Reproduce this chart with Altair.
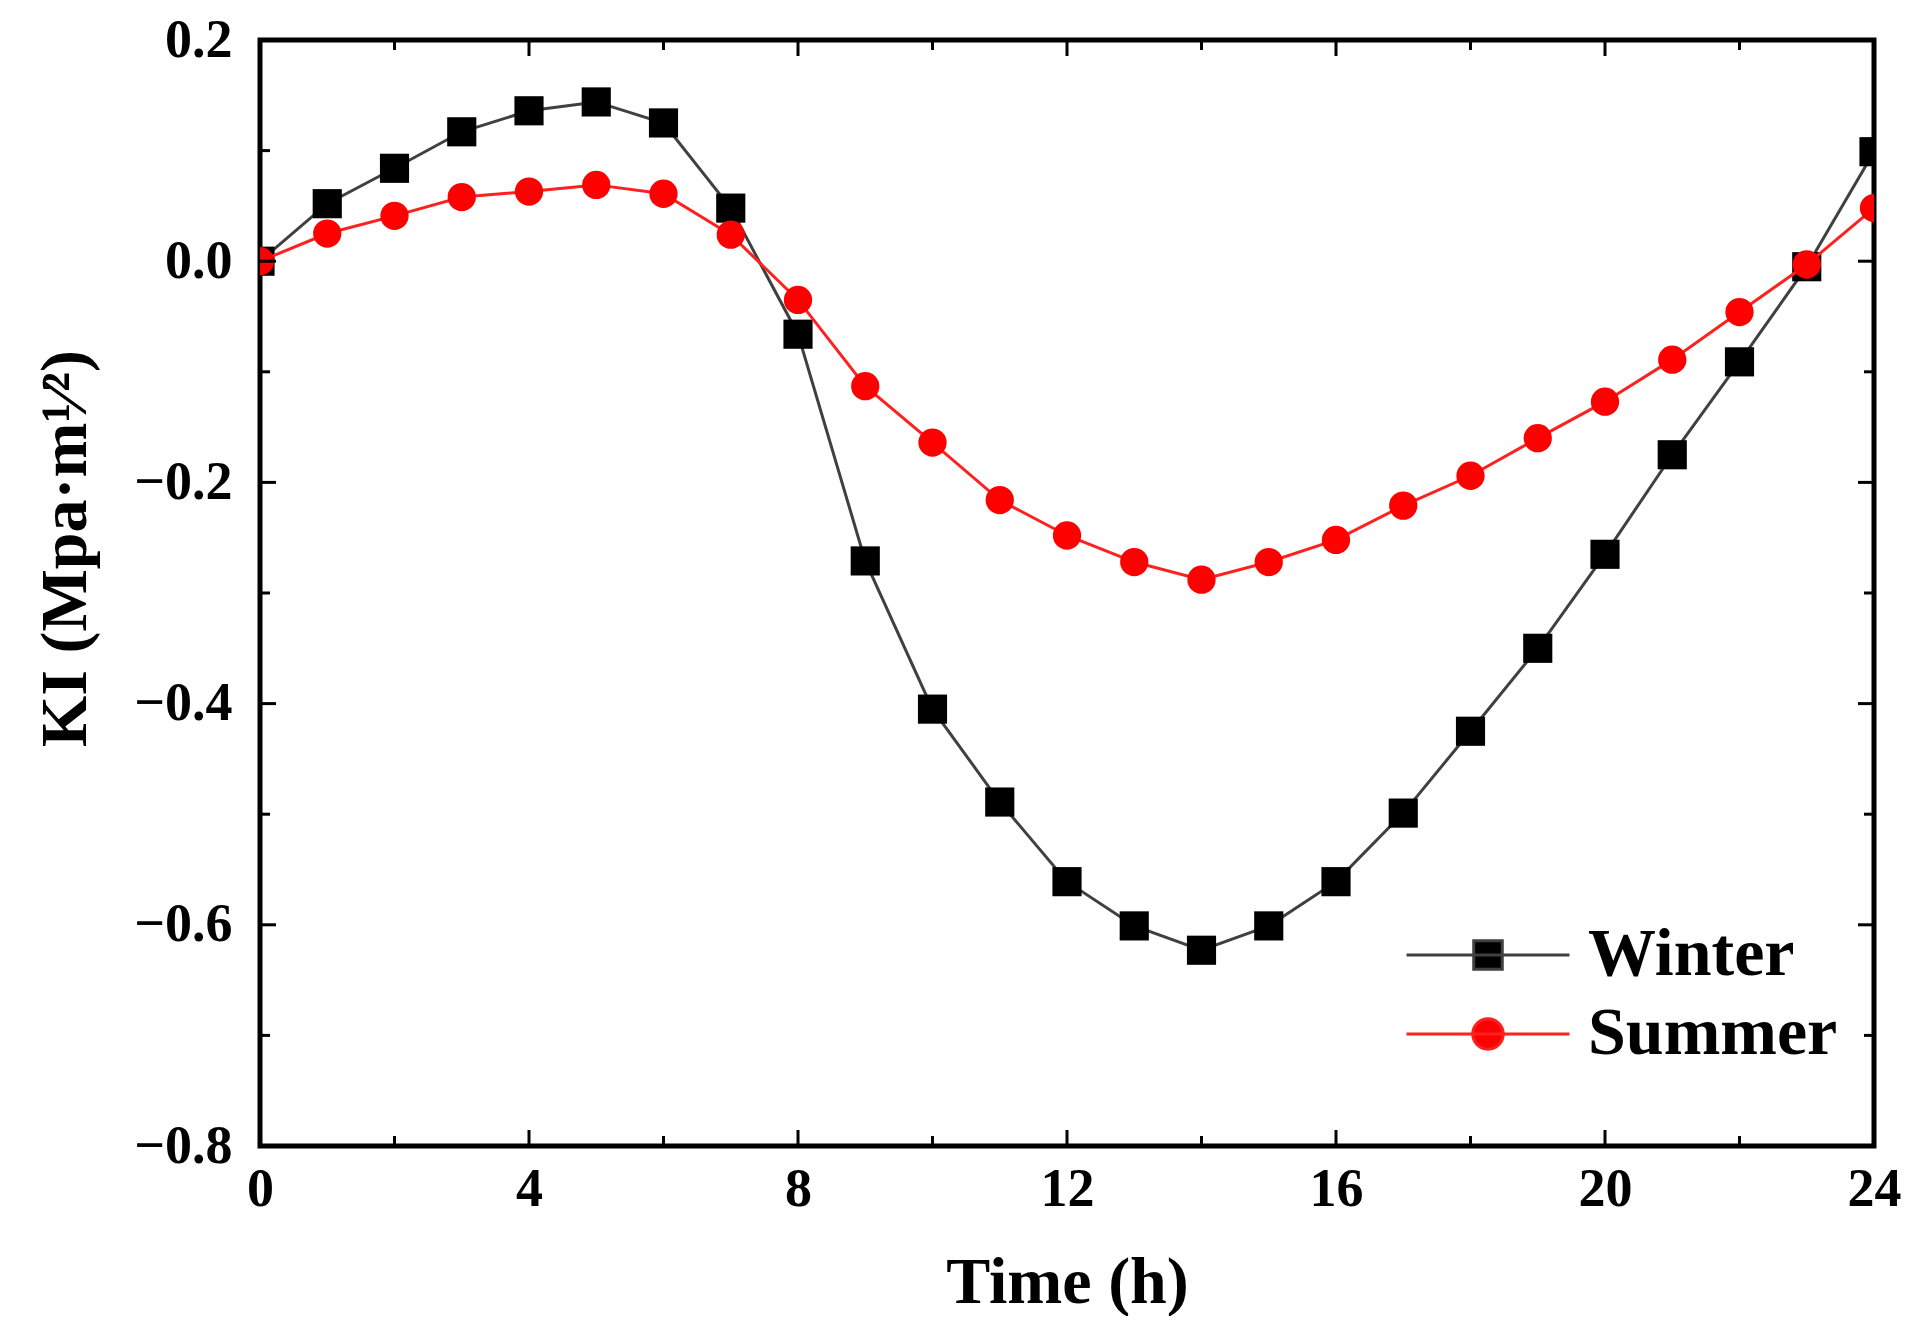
import altair as alt
import pandas as pd

hours = list(range(25))
winter = [0.0, 0.052, 0.084, 0.117, 0.136, 0.144, 0.125, 0.048, -0.066, -0.271,
          -0.405, -0.489, -0.561, -0.601, -0.623, -0.601, -0.561, -0.499, -0.425,
          -0.350, -0.265, -0.175, -0.091, -0.005, 0.099]
summer = [0.0, 0.025, 0.041, 0.058, 0.063, 0.069, 0.061, 0.024, -0.035, -0.113,
          -0.164, -0.216, -0.248, -0.272, -0.288, -0.272, -0.252, -0.221, -0.194,
          -0.160, -0.127, -0.089, -0.046, -0.003, 0.048]
series = ["Winter", "Summer"]
line_colors = ["#404040", "#ff2020"]
marker_colors = ["#000000", "#ff0000"]
marker_shapes = ["square", "circle"]
marker_sizes = [850, 800]

x_major = [0, 4, 8, 12, 16, 20, 24]
x_minor = [2, 6, 10, 14, 18, 22]
y_major = [-0.8, -0.6, -0.4, -0.2, 0.0, 0.2]
y_minor = [-0.7, -0.5, -0.3, -0.1, 0.1]

W, H = 1614, 1106
FONT = "Liberation Serif"

xs = alt.Scale(domain=[0, 24], nice=False, zero=False)
ys = alt.Scale(domain=[-0.8, 0.2], nice=False, zero=False)
x_axis = alt.Axis(values=x_major, format="d", labelFlush=False, labelPadding=16)
y_axis = alt.Axis(values=y_major, format=".1f", labelFlush=False, titleY=508)
X_TITLE = "Time (h)"
Y_TITLE = "KI (Mpa·m¹⁄²)"

# legend symbols: a line with the marker in the middle
legend_paths = {
    "Winter": "M-4,0H4M-0.7,-0.7H0.7V0.7H-0.7Z",
    "Summer": "M-4,0H4M0.75,0A0.75,0.75 0 1 1 -0.75,0A0.75,0.75 0 1 1 0.75,0Z",
}
legend_y = {"Winter": 881, "Summer": 960}


def season_layers(name, values, line_color, marker_color, shape, size):
    d = pd.DataFrame({"hour": hours, "KI": values, "season": name})
    leg = alt.Legend(
        title=None, orient="none", legendX=1194, legendY=legend_y[name],
        labelFont=FONT, labelFontSize=68, labelFontWeight="bold", labelColor="black",
        labelLimit=0, symbolType=legend_paths[name], symbolSize=1660,
        symbolStrokeWidth=3, symbolFillColor=marker_color, symbolOpacity=1,
        labelOffset=66,
    )
    line = alt.Chart(d).mark_line(strokeWidth=3, clip=True).encode(
        x=alt.X("hour:Q", scale=xs, title=X_TITLE, axis=x_axis),
        y=alt.Y("KI:Q", scale=ys, title=Y_TITLE, axis=y_axis),
        stroke=alt.Stroke("season:N", scale=alt.Scale(domain=[name], range=[line_color]),
                          legend=leg),
    )
    pts = alt.Chart(d).mark_point(filled=True, size=size, opacity=1, strokeWidth=0,
                                  shape=shape, color=marker_color, clip=True).encode(
        x=alt.X("hour:Q", scale=xs, title=X_TITLE, axis=x_axis),
        y=alt.Y("KI:Q", scale=ys, title=Y_TITLE, axis=y_axis),
    )
    return [line, pts]


def xticks(vals, length):
    d = pd.DataFrame({"v": vals})
    x = alt.X("v:Q", scale=xs, title=X_TITLE, axis=x_axis)
    bot = alt.Chart(d).mark_rule(color="black", strokeWidth=3).encode(
        x=x, y=alt.value(H), y2=alt.value(H - length))
    top = alt.Chart(d).mark_rule(color="black", strokeWidth=3).encode(
        x=x, y=alt.value(0), y2=alt.value(length))
    return [bot, top]


def yticks(vals, length):
    d = pd.DataFrame({"v": vals})
    y = alt.Y("v:Q", scale=ys, title=Y_TITLE, axis=y_axis)
    left = alt.Chart(d).mark_rule(color="black", strokeWidth=3).encode(
        y=y, x=alt.value(0), x2=alt.value(length))
    right = alt.Chart(d).mark_rule(color="black", strokeWidth=3).encode(
        y=y, x=alt.value(W), x2=alt.value(W - length))
    return [left, right]


layers = []
for name, vals, lc, mc, sh, sz in zip(series, [winter, summer], line_colors,
                                      marker_colors, marker_shapes, marker_sizes):
    layers += season_layers(name, vals, lc, mc, sh, sz)
layers += (xticks(x_major, 16) + xticks(x_minor, 10)
           + yticks(y_major, 16) + yticks(y_minor, 10))

chart = alt.layer(*layers).resolve_scale(
    stroke="independent"
).properties(
    width=W, height=H,
    autosize=alt.AutoSizeParams(type="none"),
    padding={"left": 252, "top": 32, "right": 30, "bottom": 170},
).configure_view(
    stroke="black", strokeWidth=5
).configure_axis(
    domain=False, ticks=False, grid=False,
    labelFont=FONT, labelFontSize=54, labelFontWeight="bold", labelColor="black",
    labelPadding=28,
    titleFont=FONT, titleFontSize=66, titleFontWeight="bold", titleColor="black",
).configure_axisX(titlePadding=34).configure_axisY(titlePadding=34)

chart.save("out.html", embed_options={"renderer": "svg", "actions": False})
